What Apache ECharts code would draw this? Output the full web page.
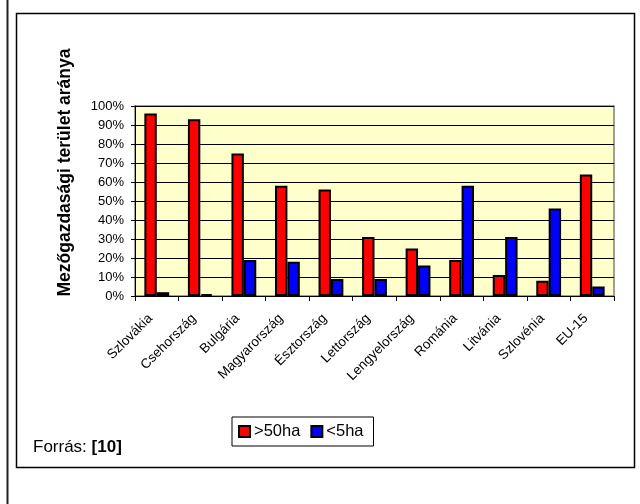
<!DOCTYPE html>
<html>
<head>
<meta charset="utf-8">
<script src="https://cdn.jsdelivr.net/npm/echarts@6/dist/echarts.min.js"></script>
<style>
html,body{margin:0;padding:0;background:#fff;}
#c{width:640px;height:504px;}
</style>
</head>
<body>
<div id="c"></div>
<script>
var categories = ['Szlovákia','Csehország','Bulgária','Magyarország','Észtország','Lettország','Lengyelország','Románia','Litvánia','Szlovénia','EU-15'];
var over50 = [96, 93, 75, 58, 56, 31, 25, 19, 11, 8, 64];
var under5 = [2, 1, 19, 18, 9, 9, 16, 58, 31, 46, 5];
var seriesNames = ['>50ha', '<5ha'];
var yTitle = 'Mezőgazdasági terület aránya';

var FONT = '"Liberation Sans", Arial, sans-serif';
var chart = echarts.init(document.getElementById('c'), null, {renderer: 'canvas'});
chart.setOption({
  animation: false,
  backgroundColor: '#ffffff',
  grid: {
    left: 135, right: 26, top: 106, bottom: 208,
    show: true, backgroundColor: '#FFFFCC', borderColor: '#808080', borderWidth: 1.5
  },
  xAxis: {
    type: 'category',
    data: categories,
    axisLine: {lineStyle: {color: '#000', width: 1}},
    axisTick: {show: true, length: 5, lineStyle: {color: '#000'}},
    axisLabel: {rotate: 45, interval: 0, margin: 14, fontSize: 13.5, color: '#000', fontFamily: FONT, padding: [0, 9, 0, 0]}
  },
  yAxis: {
    type: 'value', min: 0, max: 100, interval: 10,
    axisLine: {show: true, lineStyle: {color: '#000', width: 1}},
    axisTick: {show: true, length: 4, lineStyle: {color: '#000'}},
    axisLabel: {formatter: '{value}%', fontSize: 13, color: '#000', margin: 11, fontFamily: FONT},
    splitLine: {show: true, lineStyle: {color: '#000', width: 1}}
  },
  legend: {
    left: 232, top: 417,
    data: seriesNames,
    itemWidth: 11, itemHeight: 11, itemGap: 10,
    borderColor: '#000', borderWidth: 1, padding: [6, 10, 6, 6],
    textStyle: {fontSize: 16.5, lineHeight: 17, color: '#000', fontFamily: FONT, padding: [0, 0, 0, -1]},
    icon: 'rect'
  },
  series: [
    {
      name: seriesNames[0], type: 'bar', data: over50,
      barGap: '0%', barCategoryGap: '43%',
      itemStyle: {color: '#FF0000', borderColor: '#000', borderWidth: 2}
    },
    {
      name: seriesNames[1], type: 'bar', data: under5,
      barGap: '0%', barCategoryGap: '43%',
      itemStyle: {color: '#0000FF', borderColor: '#000', borderWidth: 2}
    }
  ],
  graphic: [
    {type: 'line', shape: {x1: 7.5, y1: 0, x2: 7.5, y2: 504}, style: {stroke: '#222', lineWidth: 2}},
    {type: 'rect', shape: {x: 16.5, y: 13.5, width: 618, height: 454}, style: {fill: null, stroke: '#000', lineWidth: 1.5}, z: -1},
    {type: 'text', x: 65, y: 172.5, rotation: Math.PI / 2,
     style: {text: yTitle, font: 'bold 17.5px ' + FONT, fill: '#000', textAlign: 'center', textVerticalAlign: 'middle'}},
    {type: 'text', x: 33, y: 447,
     style: {text: '{n|Forrás: }{b|[10]}', textVerticalAlign: 'middle', rich: {n: {font: '17px ' + FONT, fill: '#000'}, b: {font: 'bold 17px ' + FONT, fill: '#000'}}}}
  ]
});
</script>
</body>
</html>
